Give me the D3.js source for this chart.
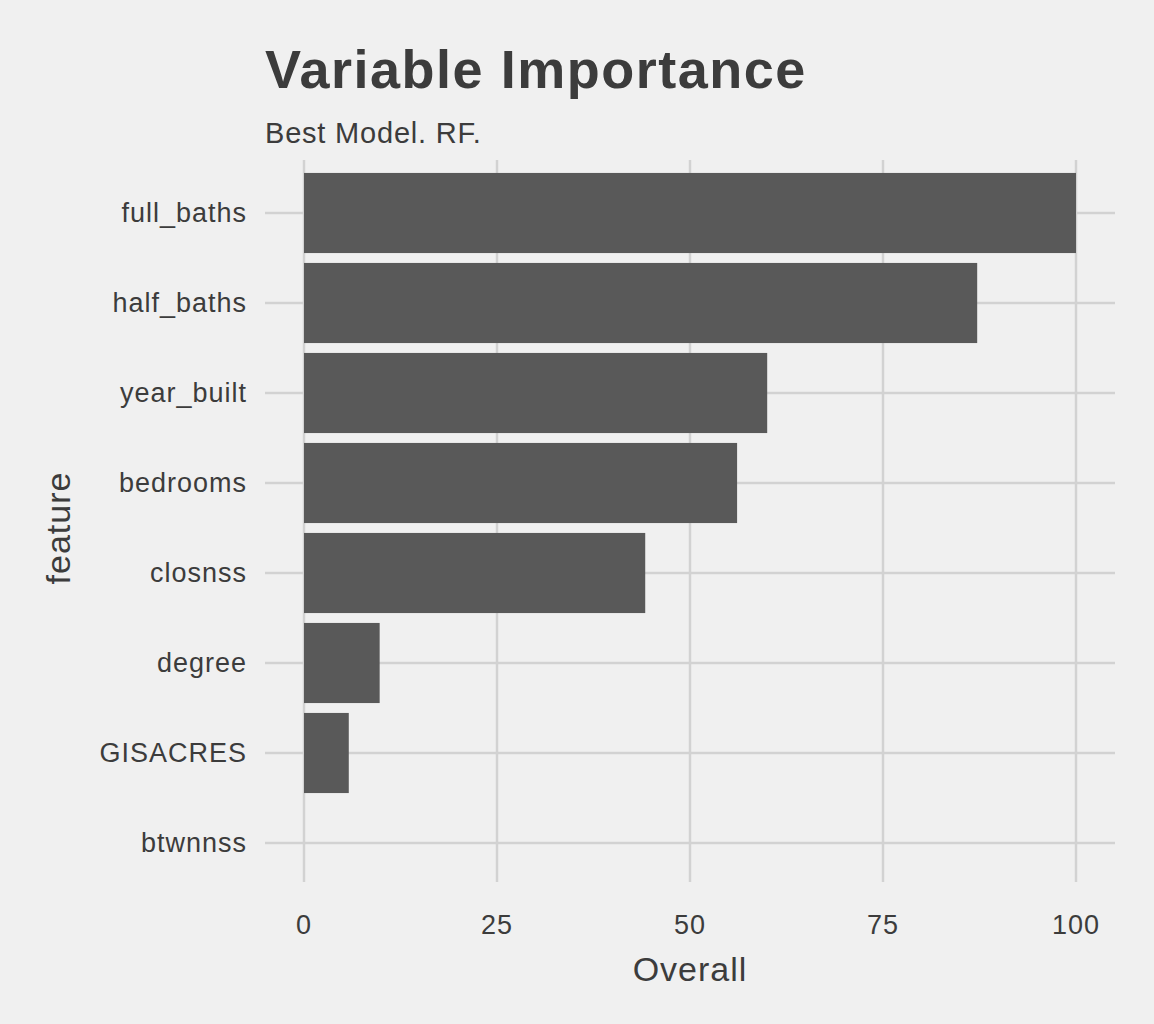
<!DOCTYPE html>
<html>
<head>
<meta charset="utf-8">
<script src="https://cdn.jsdelivr.net/npm/d3@7"></script>
<style>
  body { margin: 0; background: #f0f0f0; }
  text { font-family: "Liberation Sans", "DejaVu Sans", sans-serif; fill: #3c3c3c; }
</style>
</head>
<body>
<script>
// values
const features = ['full_baths', 'half_baths', 'year_built', 'bedrooms', 'closnss', 'degree', 'GISACRES', 'btwnnss'];
const overall = [100, 87.2, 60.0, 56.1, 44.2, 9.8, 5.8, 0];
const xTicks = [0, 25, 50, 75, 100];

const width = 1154, height = 1024;

const svg = d3.select('body').append('svg')
    .attr('width', width)
    .attr('height', height);

svg.append('rect').attr('width', width).attr('height', height).attr('fill', '#f0f0f0');

let x = d3.scaleLinear().domain([0, 100]).range([304, 1076]);
let y = d3.scaleBand().domain(features).range([168, 888])
    .paddingInner(0.11).paddingOuter(0.055);

// grid
svg.selectAll('.vgrid').data(xTicks).enter().append('line')
    .attr('x1', d => x(d)).attr('x2', d => x(d))
    .attr('y1', 160).attr('y2', 882)
    .attr('stroke', '#d2d2d2').attr('stroke-width', 2.5);

svg.selectAll('.hgrid').data(features).enter().append('line')
    .attr('x1', 265).attr('x2', 1115)
    .attr('y1', d => y(d) + y.bandwidth() / 2).attr('y2', d => y(d) + y.bandwidth() / 2)
    .attr('stroke', '#d2d2d2').attr('stroke-width', 2.5);

// bars
svg.selectAll('.bar').data(features).enter().append('rect')
    .attr('x', x(0))
    .attr('y', d => y(d))
    .attr('width', (d, i) => x(overall[i]) - x(0))
    .attr('height', y.bandwidth())
    .attr('fill', '#595959');

// y labels
svg.selectAll('.ylab').data(features).enter().append('text')
    .attr('x', 247)
    .attr('y', d => y(d) + y.bandwidth() / 2)
    .attr('dy', '0.35em')
    .attr('text-anchor', 'end')
    .attr('font-size', 27)
    .attr('letter-spacing', 1)
    .text(d => d);

// x labels
svg.selectAll('.xlab').data(xTicks).enter().append('text')
    .attr('x', d => x(d))
    .attr('y', 934)
    .attr('text-anchor', 'middle')
    .attr('font-size', 27)
    .attr('letter-spacing', 1)
    .text(d => d);

svg.append('text').attr('x', 690).attr('y', 981)
    .attr('text-anchor', 'middle').attr('font-size', 34).attr('letter-spacing', 1).text('Overall');

svg.append('text')
    .attr('transform', 'translate(70,528) rotate(-90)')
    .attr('text-anchor', 'middle').attr('font-size', 34).attr('letter-spacing', 1).text('feature');

svg.append('text').attr('x', 265).attr('y', 88)
    .attr('font-size', 54).attr('font-weight', 'bold').attr('letter-spacing', 1.5)
    .text('Variable Importance');

svg.append('text').attr('x', 265).attr('y', 143)
    .attr('font-size', 29).attr('letter-spacing', 0.8).text('Best Model. RF.');
</script>
</body>
</html>
